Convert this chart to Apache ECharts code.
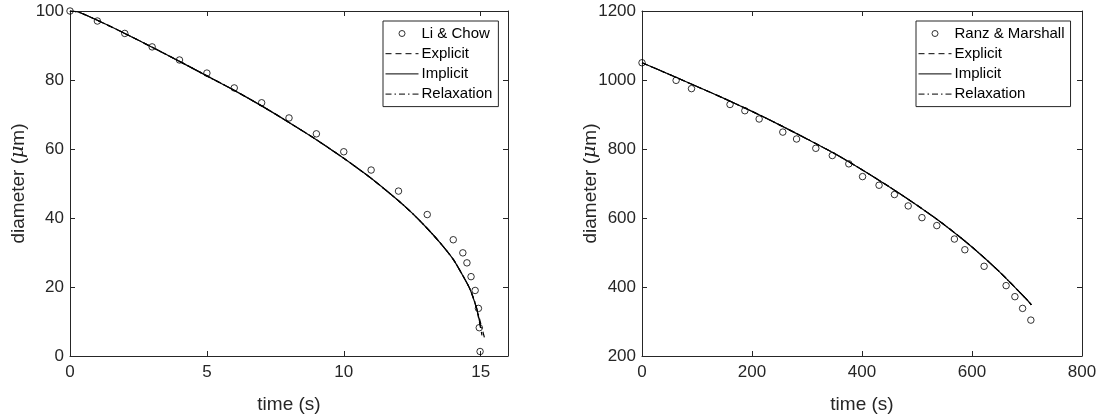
<!DOCTYPE html>
<html>
<head>
<meta charset="utf-8">
<script src="https://cdn.jsdelivr.net/npm/echarts@6/dist/echarts.min.js"></script>
<style>
  html, body { margin: 0; padding: 0; background: #fff; }
  #chart { width: 1109px; height: 419px; }
</style>
</head>
<body>
<div id="chart"></div>
<script>
// ---- Left panel: droplet diameter vs time, Li & Chow experiment ----
const liChowT = [0, 1, 2, 3, 4, 5, 6, 7, 8, 9, 10, 11, 12, 13.05, 14, 14.35, 14.5, 14.65, 14.8, 14.92, 14.95, 14.98];
const liChowD = [100, 97.1, 93.5, 89.6, 85.8, 82.0, 77.7, 73.4, 69.0, 64.4, 59.2, 53.9, 47.8, 41.0, 33.7, 29.9, 27.0, 23.0, 19.0, 13.8, 8.2, 1.3];

const leftExplicitT = [0, 0.3, 1, 2, 3, 4, 5, 6, 7, 8, 9, 10, 11, 12, 12.5, 13, 13.5, 14, 14.3, 14.6, 14.8, 14.9, 15.0, 15.05];
const leftExplicitD = [100, 99.7, 97.3, 93.5, 89.5, 85.4, 81.2, 77.0, 72.5, 67.7, 62.7, 57.3, 51.5, 45.0, 41.4, 37.4, 33.0, 28.0, 24.0, 19.6, 15.2, 12.0, 8.0, 6.0];

const leftImplicitT = [0, 0.3, 1, 2, 3, 4, 5, 6, 7, 8, 9, 10, 11, 12, 12.5, 13, 13.5, 14, 14.3, 14.6, 14.8, 14.9, 15.0];
const leftImplicitD = [100, 99.7, 97.3, 93.5, 89.5, 85.4, 81.2, 77.0, 72.5, 67.7, 62.7, 57.3, 51.5, 45.0, 41.4, 37.4, 33.0, 28.0, 24.0, 19.6, 15.2, 12.3, 8.5];

const leftRelaxT = [0, 0.3, 1, 2, 3, 4, 5, 6, 7, 8, 9, 10, 11, 12, 12.5, 13, 13.5, 14, 14.3, 14.6, 14.8, 14.9, 15.0, 15.1, 15.15];
const leftRelaxD = [100, 99.7, 97.3, 93.5, 89.5, 85.4, 81.2, 77.0, 72.5, 67.7, 62.7, 57.3, 51.5, 45.0, 41.4, 37.4, 33.0, 28.0, 24.0, 19.6, 15.4, 12.6, 9.5, 6.5, 5.0];

// ---- Right panel: droplet diameter vs time, Ranz & Marshall experiment ----
const ranzT = [0, 62, 90, 160, 187, 213, 256, 281, 316, 346, 376, 401, 431, 459, 484, 509, 536, 568, 587, 622, 662, 678, 692, 707];
const ranzD = [1050, 999, 975, 929, 911, 887, 849, 829, 802, 781, 757, 720, 695, 668, 635, 601, 578, 539, 508, 460, 404, 372, 338, 304];

const rightT = [0, 50, 100, 150, 200, 250, 300, 350, 400, 450, 500, 550, 600, 650, 700, 708];
const rightExplicitD = [1050, 1016, 981, 946, 909, 870, 829, 787, 740, 690, 637, 580, 516, 444, 363, 348];
const rightImplicitD = [1050, 1016, 981, 946, 909, 870, 829, 787, 740, 690, 637, 580, 516, 444, 363, 348];
const rightRelaxD = [1050, 1016, 981, 946, 909, 870, 829, 787, 740, 690, 637, 580, 516, 444, 363, 348];

// ---- Axis settings ----
const leftX = { min: 0, max: 16, interval: 5 };
const leftY = { min: 0, max: 100, interval: 20 };
const rightX = { min: 0, max: 800, interval: 200 };
const rightY = { min: 200, max: 1200, interval: 200 };

const xLabel = 'time (s)';
const yLabel = 'diameter ({mu|μ}m)';
const ink = '#262626';
const font = '"Liberation Sans", Arial, Helvetica, sans-serif';

const pairs = (xs, ys) => xs.map((x, i) => [x, ys[i]]);
const plain = (v) => String(v);

function mainX(gridIndex, ax) {
  return {
    type: 'value', gridIndex, min: ax.min, max: ax.max, interval: ax.interval,
    name: xLabel, nameLocation: 'middle', nameGap: 39,
    nameTextStyle: { color: ink, fontSize: 19, fontFamily: font },
    axisLine: { show: true, onZero: false, lineStyle: { color: ink, width: 1 } },
    axisTick: { show: true, inside: true, length: 5, lineStyle: { color: ink } },
    axisLabel: { color: ink, fontSize: 17, fontFamily: font, margin: 8, formatter: plain,
                 showMaxLabel: ax.max % ax.interval === 0 },
    splitLine: { show: false }
  };
}
function topX(gridIndex, ax) {
  return {
    type: 'value', gridIndex, position: 'top', min: ax.min, max: ax.max, interval: ax.interval,
    axisLine: { show: true, onZero: false, lineStyle: { color: ink, width: 1 } },
    axisTick: { show: true, inside: true, length: 5, lineStyle: { color: ink } },
    axisLabel: { show: false }, splitLine: { show: false }
  };
}
function mainY(gridIndex, ax) {
  return {
    type: 'value', gridIndex, min: ax.min, max: ax.max, interval: ax.interval,
    name: yLabel, nameLocation: 'middle', nameGap: 42, nameMoveOverlap: false,
    nameTextStyle: {
      color: ink, fontSize: 19, fontFamily: font,
      rich: { mu: { fontStyle: 'italic', fontSize: 19, color: ink, fontFamily: '"DejaVu Serif", serif' } }
    },
    axisLine: { show: true, onZero: false, lineStyle: { color: ink, width: 1 } },
    axisTick: { show: true, inside: true, length: 5, lineStyle: { color: ink } },
    axisLabel: { color: ink, fontSize: 17, fontFamily: font, margin: 6, formatter: plain },
    splitLine: { show: false }
  };
}
function rightYAxis(gridIndex, ax) {
  return {
    type: 'value', gridIndex, position: 'right', min: ax.min, max: ax.max, interval: ax.interval,
    axisLine: { show: true, onZero: false, lineStyle: { color: ink, width: 1 } },
    axisTick: { show: true, inside: true, length: 5, lineStyle: { color: ink } },
    axisLabel: { show: false }, splitLine: { show: false }
  };
}

function scatterSeries(name, xIdx, yIdx, data) {
  return {
    name, type: 'scatter', xAxisIndex: xIdx, yAxisIndex: yIdx, data,
    symbol: 'circle', symbolSize: 6.5,
    itemStyle: { color: 'rgba(0,0,0,0)', borderColor: '#000', borderWidth: 1 },
    z: 5, silent: true
  };
}
function lineSeries(name, xIdx, yIdx, data, type, z) {
  return {
    name, type: 'line', xAxisIndex: xIdx, yAxisIndex: yIdx, data,
    symbol: 'none', showSymbol: false, smooth: 0.25,
    lineStyle: { color: '#000', width: 1.2, type },
    itemStyle: { color: '#000' },
    z, silent: true
  };
}

const dashed = [6, 4];
const dashDot = [6, 3, 1.5, 3];

// Legend entries: hollow marker for measurements, bare line samples for the models
const hiddenMarker = { color: 'rgba(0,0,0,0)', borderColor: 'rgba(0,0,0,0)', borderWidth: 0 };
function legendAt(left, dataName) {
  return {
    left, top: 21, orient: 'vertical',
    data: [
      { name: dataName, itemStyle: { color: 'rgba(0,0,0,0)', borderColor: '#000', borderWidth: 1 } },
      { name: 'Explicit', itemStyle: hiddenMarker, lineStyle: { width: 1, type: dashed } },
      { name: 'Implicit', itemStyle: hiddenMarker, lineStyle: { width: 1, type: 'solid' } },
      { name: 'Relaxation', itemStyle: hiddenMarker, lineStyle: { width: 1, type: dashDot } }
    ],
    itemWidth: 33, itemHeight: 6, itemGap: 5.2,
    padding: [5, 6, 5, 2],
    borderColor: ink, borderWidth: 1, backgroundColor: '#fff',
    textStyle: { color: '#000', fontSize: 15, fontFamily: font, padding: [0, 0, 0, -2] },
    selectedMode: false
  };
}

const option = {
  animation: false,
  backgroundColor: '#fff',
  grid: [
    { left: 70, top: 11, width: 438, height: 346 },
    { left: 642, top: 11, width: 440, height: 345 }
  ],
  xAxis: [mainX(0, leftX), mainX(1, rightX), topX(0, leftX), topX(1, rightX)],
  yAxis: [mainY(0, leftY), mainY(1, rightY), rightYAxis(0, leftY), rightYAxis(1, rightY)],
  legend: [legendAt(383, 'Li & Chow'), legendAt(916, 'Ranz & Marshall')],
  series: [
    scatterSeries('Li & Chow', 0, 0, pairs(liChowT, liChowD)),
    lineSeries('Explicit', 0, 0, pairs(leftExplicitT, leftExplicitD), dashed, 2),
    lineSeries('Relaxation', 0, 0, pairs(leftRelaxT, leftRelaxD), dashDot, 2),
    lineSeries('Implicit', 0, 0, pairs(leftImplicitT, leftImplicitD), 'solid', 3),

    scatterSeries('Ranz & Marshall', 1, 1, pairs(ranzT, ranzD)),
    lineSeries('Explicit', 1, 1, pairs(rightT, rightExplicitD), dashed, 2),
    lineSeries('Relaxation', 1, 1, pairs(rightT, rightRelaxD), dashDot, 2),
    lineSeries('Implicit', 1, 1, pairs(rightT, rightImplicitD), 'solid', 3)
  ]
};

const chart = echarts.init(document.getElementById('chart'), null, { renderer: 'canvas' });
chart.setOption(option);
</script>
</body>
</html>
